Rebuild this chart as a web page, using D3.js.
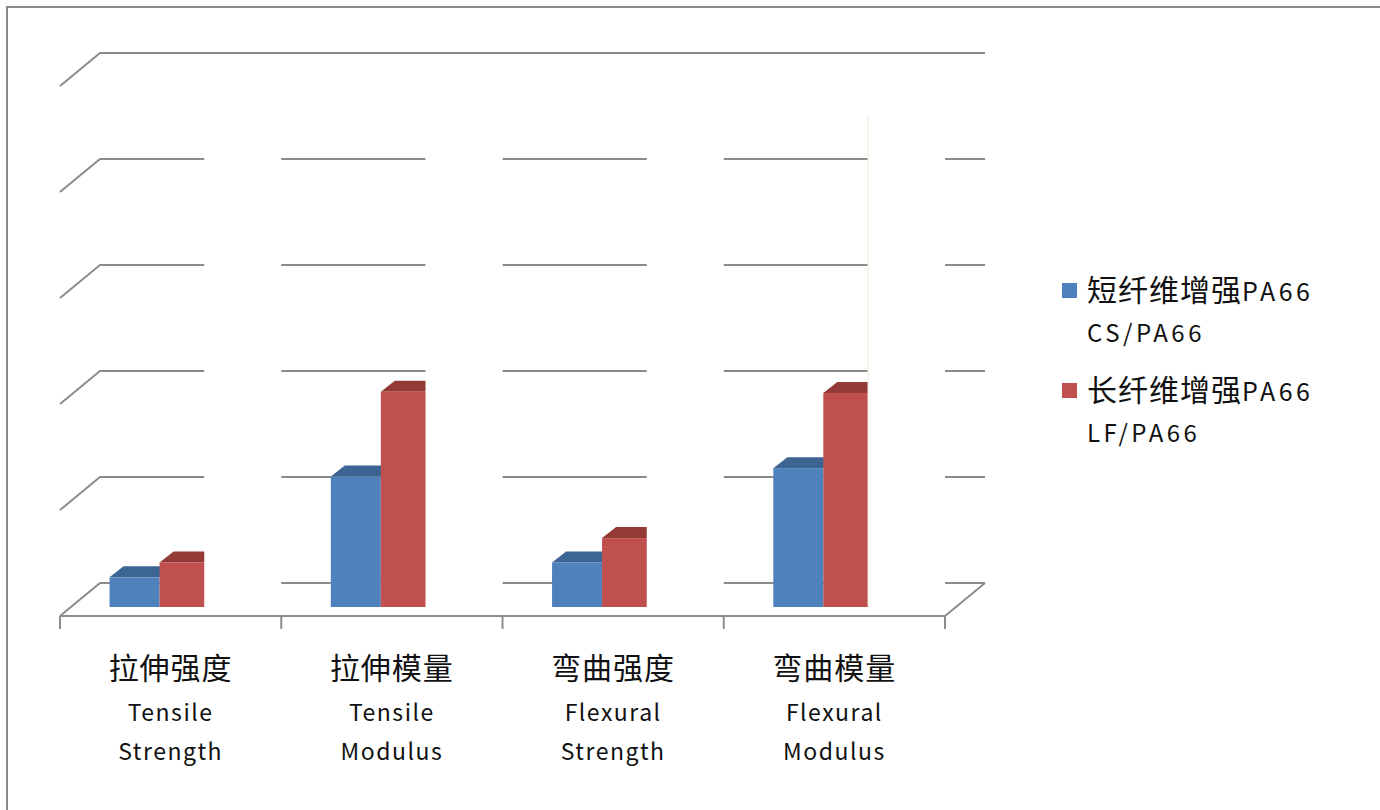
<!DOCTYPE html>
<html>
<head>
<meta charset="utf-8">
<script src="https://cdn.jsdelivr.net/npm/d3@7"></script>
<style>
  body { margin: 0; background: #fff; }
  text { font-family: "Noto Sans CJK SC", "Noto Sans", sans-serif; fill: #111; }
</style>
</head>
<body>
<div id="container"></div>
<script>
var categoriesZh = ["拉伸强度", "拉伸模量", "弯曲强度", "弯曲模量"];
var categoriesEn = [["Tensile", "Strength"], ["Tensile", "Modulus"], ["Flexural", "Strength"], ["Flexural", "Modulus"]];
var seriesNames = ["短纤维增强PA66", "长纤维增强PA66"];
var seriesCodes = ["CS/PA66", "LF/PA66"];
var shortFiber = [28, 123, 42, 131];
var longFiber = [42, 203, 65, 202];
var yTicks = [0, 100, 200, 300, 400, 500];

var width = 1380, height = 810;
var depthX = 40, depthY = 33;      // floor depth (front -> back wall)
var barDX = 14, barDY = 11;        // bar top face depth

var svg = d3.select("#container").append("svg")
  .attr("width", width)
  .attr("height", height);

// outer frame (right/bottom edges fall outside the picture)
svg.append("path")
  .attr("d", "M7,812 L7,7 L1382,7")
  .attr("fill", "none")
  .attr("stroke", "#8a8a8a")
  .attr("stroke-width", 2);

var x = d3.scaleBand().domain(categoriesZh).range([60, 945]);
var bw = x.bandwidth();
var xs = d3.scaleBand().domain([0, 1]).range([bw * 0.224, bw * 0.676]);

var yBar = d3.scaleLinear().domain([0, 500]).range([607, 77]);
var yBack = d3.scaleLinear().domain([0, 500]).range([616 - depthY, 616 - depthY - 530]);

var grid = svg.append("g").attr("class", "grid")
  .attr("fill", "none")
  .attr("stroke", "#8c8c8c")
  .attr("stroke-width", 2);

// back wall lines + left wall diagonals
grid.selectAll(".hline")
  .data(yTicks)
  .enter().append("path")
  .attr("d", function(d) {
    var yb = yBack(d);
    return "M60," + (yb + depthY) + " L" + (60 + depthX) + "," + yb + " L" + (945 + depthX) + "," + yb;
  });

// floor front edge and right diagonal
grid.append("path")
  .attr("d", "M60,616 L945,616 L" + (945 + depthX) + "," + (616 - depthY));

// tick marks
grid.selectAll(".tick")
  .data(categoriesZh.concat(["end"]))
  .enter().append("line")
  .attr("x1", function(d) { return d === "end" ? 945 : x(d); })
  .attr("x2", function(d) { return d === "end" ? 945 : x(d); })
  .attr("y1", 616)
  .attr("y2", 629);

// bars
var series = [
  { name: seriesNames[0], values: shortFiber, front: "#4f81bd", top: "#3c6594" },
  { name: seriesNames[1], values: longFiber, front: "#c0504d", top: "#943b38" }
];

var cat = svg.append("g").selectAll(".cat")
  .data(categoriesZh)
  .enter().append("g")
  .attr("class", "cat")
  .attr("transform", function(d) { return "translate(" + x(d) + ",0)"; });

series.forEach(function(s, si) {
  cat.append("path")
    .attr("fill", s.top)
    .attr("d", function(d, i) {
      var x0 = xs(si), x1 = x0 + xs.bandwidth(), yt = yBar(s.values[i]);
      return "M" + x0 + "," + yt + " L" + (x0 + barDX) + "," + (yt - barDY) +
        " L" + (x1 + barDX) + "," + (yt - barDY) + " L" + x1 + "," + yt + "Z";
    });
  cat.append("rect")
    .attr("fill", s.front)
    .attr("x", xs(si))
    .attr("width", xs.bandwidth())
    .attr("y", function(d, i) { return yBar(s.values[i]); })
    .attr("height", function(d, i) { return yBar(0) - yBar(s.values[i]); });
});

// white gaps that hide the bars' side faces and the wall lines
cat.append("rect")
  .attr("fill", "#fff")
  .attr("x", bw * 0.652)
  .attr("width", bw * 0.348)
  .attr("y", 115)
  .attr("height", 609 - 115);

cat.filter(function(d, i) { return i === categoriesZh.length - 1; })
  .append("line")
  .attr("x1", bw * 0.652).attr("x2", bw * 0.652)
  .attr("y1", 115).attr("y2", 606)
  .attr("stroke", "#ecebd8")
  .attr("stroke-width", 1);

// category labels
cat.append("text")
  .attr("x", bw / 2)
  .attr("y", 679)
  .attr("text-anchor", "middle")
  .style("font-size", "30px")
  .style("letter-spacing", "1px")
  .text(function(d) { return d; });

cat.selectAll(".en")
  .data(function(d, i) { return categoriesEn[i]; })
  .enter().append("text")
  .attr("class", "en")
  .attr("x", bw / 2)
  .attr("y", function(d, i) { return 721 + i * 39; })
  .attr("text-anchor", "middle")
  .style("font-size", "23px")
  .style("letter-spacing", "1.5px")
  .text(function(d) { return d; });

// legend
var legend = svg.append("g").selectAll(".legend")
  .data(series)
  .enter().append("g")
  .attr("class", "legend")
  .attr("transform", function(d, i) { return "translate(1062," + (283 + i * 100) + ")"; });

legend.append("rect")
  .attr("width", 15)
  .attr("height", 15)
  .attr("fill", function(d) { return d.front; });

legend.append("text")
  .attr("x", 25)
  .attr("y", 18)
  .style("font-size", "30px")
  .style("letter-spacing", "1px")
  .text(function(d) { return d.name.replace("PA66", ""); })
  .append("tspan")
  .style("font-size", "25px")
  .style("letter-spacing", "3.5px")
  .text("PA66");

legend.append("text")
  .attr("x", 25)
  .attr("y", 59)
  .style("font-size", "24px")
  .style("letter-spacing", "3.5px")
  .text(function(d, i) { return seriesCodes[i]; });
</script>
</body>
</html>
